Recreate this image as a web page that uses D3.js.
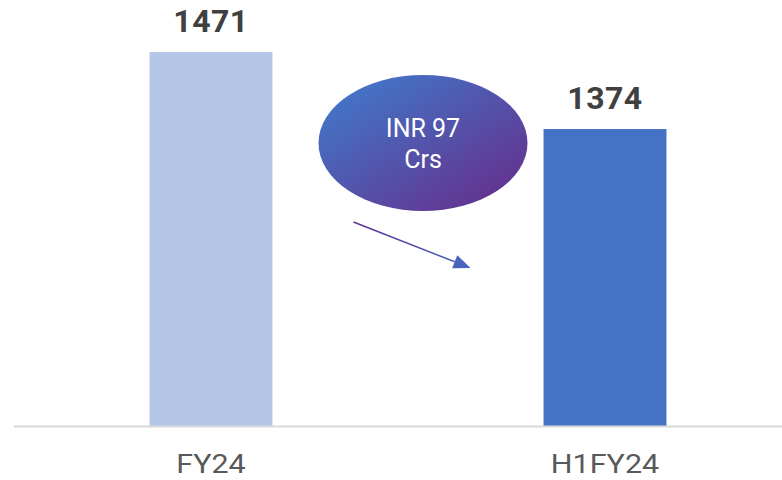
<!DOCTYPE html>
<html>
<head>
<meta charset="utf-8">
<script src="https://cdn.jsdelivr.net/npm/d3@7"></script>
<style>
    html, body { margin: 0; padding: 0; background: #fff; }
</style>
</head>
<body>
<div id="chart"></div>
<script>

var categories = ["FY24", "H1FY24"];
var values = [1471, 1374];
var barColors = ["#b4c7e7", "#4472c4"];
var yDomain = [1000, 1500];

var width = 782,
    height = 480;

var svg = d3.select("#chart")
    .append("svg")
    .attr("width", width)
    .attr("height", height);

var defs = svg.append("defs");

var grad = defs.append("linearGradient")
    .attr("id", "bubbleGrad")
    .attr("x1", "0").attr("y1", "0")
    .attr("x2", "1").attr("y2", "1");
grad.append("stop").attr("offset", "0.15").attr("stop-color", "#4472c4");
grad.append("stop").attr("offset", "0.95").attr("stop-color", "#662d8c");

var lineGrad = defs.append("linearGradient")
    .attr("id", "arrowGrad")
    .attr("x1", "0").attr("y1", "0")
    .attr("x2", "1").attr("y2", "0");
lineGrad.append("stop").attr("offset", "0").attr("stop-color", "#5e2f8f");
lineGrad.append("stop").attr("offset", "1").attr("stop-color", "#4a5fb8");

var x = d3.scaleBand()
    .domain(categories)
    .range([14, 802])
    .paddingInner(0.688)
    .paddingOuter(0.344);

var y = d3.scaleLinear()
    .domain(yDomain)
    .range([426, 29]);

// bars
svg.selectAll("rect.bar")
    .data(values)
    .enter().append("rect")
    .attr("class", "bar")
    .attr("x", function (d, i) { return x(categories[i]); })
    .attr("y", function (d) { return y(d); })
    .attr("width", x.bandwidth())
    .attr("height", function (d) { return y(yDomain[0]) - y(d); })
    .attr("fill", function (d, i) { return barColors[i]; });

// baseline
svg.append("line")
    .attr("x1", 14)
    .attr("x2", width)
    .attr("y1", y(yDomain[0]) + 0.5)
    .attr("y2", y(yDomain[0]) + 0.5)
    .attr("stroke", "#d9d9d9")
    .attr("stroke-width", 2);

// value labels
svg.selectAll("text.value")
    .data(values)
    .enter().append("text")
    .attr("class", "value")
    .attr("x", function (d, i) { return x(categories[i]) + x.bandwidth() / 2; })
    .attr("y", function (d) { return y(d) - 20; })
    .attr("text-anchor", "middle")
    .attr("font-family", "Roboto, sans-serif")
    .attr("font-weight", 700)
    .attr("font-size", "32px")
    .attr("letter-spacing", "0.5px")
    .attr("fill", "#404040")
    .text(function (d) { return d; });

// category labels
svg.selectAll("text.cat")
    .data(categories)
    .enter().append("text")
    .attr("class", "cat")
    .attr("transform", function (d) {
        return "translate(" + (x(d) + x.bandwidth() / 2) + "," + 473 + ") scale(1.22,1)";
    })
    .attr("text-anchor", "middle")
    .attr("font-family", "Roboto, sans-serif")
    .attr("font-size", "25px")
    .attr("fill", "#595959")
    .text(function (d) { return d; });

// difference bubble
var diff = values[0] - values[1];
var mid = (x(categories[0]) + x.bandwidth() + x(categories[1])) / 2;
var bubble = svg.append("g")
    .attr("transform", "translate(" + (mid + 15) + "," + 143 + ")");

bubble.append("ellipse")
    .attr("rx", 104.5)
    .attr("ry", 68)
    .attr("fill", "url(#bubbleGrad)");

bubble.append("text")
    .attr("y", -6)
    .attr("text-anchor", "middle")
    .attr("font-family", "Roboto, sans-serif")
    .attr("font-size", "25px")
    .attr("fill", "#ffffff")
    .text("INR " + diff);

bubble.append("text")
    .attr("y", 25)
    .attr("text-anchor", "middle")
    .attr("font-family", "Roboto, sans-serif")
    .attr("font-size", "25px")
    .attr("fill", "#ffffff")
    .text("Crs");

// arrow
var ax1 = x(categories[0]) + x.bandwidth() + 81,
    ay1 = 222,
    ax2 = x(categories[1]) - 73,
    ay2 = 268;
var ang = Math.atan2(ay2 - ay1, ax2 - ax1);
var headLen = 17, headW = 7;
var bx = ax2 - headLen * Math.cos(ang),
    by = ay2 - headLen * Math.sin(ang);

svg.append("line")
    .attr("x1", ax1)
    .attr("y1", ay1)
    .attr("x2", bx)
    .attr("y2", by)
    .attr("stroke", "url(#arrowGrad)")
    .attr("stroke-width", 1.5);

svg.append("path")
    .attr("d", "M" + ax2 + "," + ay2 +
        "L" + (bx + headW * Math.sin(ang)) + "," + (by - headW * Math.cos(ang)) +
        "L" + (bx - headW * Math.sin(ang)) + "," + (by + headW * Math.cos(ang)) + "Z")
    .attr("fill", "#4a63bd");

</script>
</body>
</html>
